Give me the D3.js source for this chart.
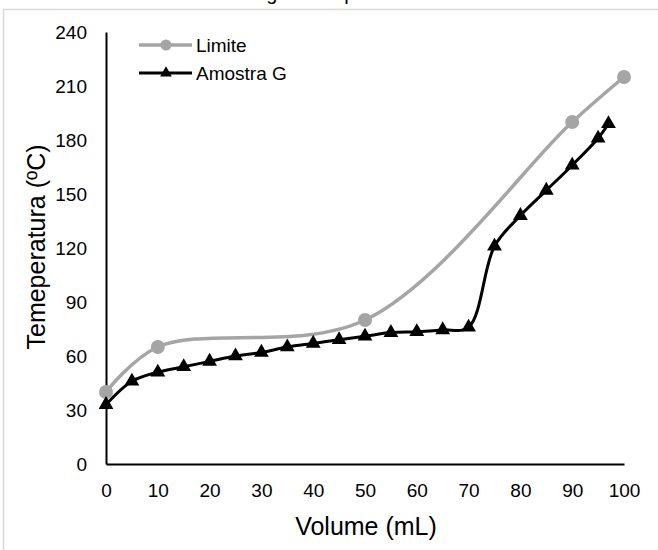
<!DOCTYPE html>
<html>
<head>
<meta charset="utf-8">
<script src="https://cdn.jsdelivr.net/npm/d3@7"></script>
<style>
  body { margin: 0; background: #fff; }
  svg { display: block; font-family: "Liberation Sans", Arial, sans-serif; }
</style>
</head>
<body>
<div id="chart"></div>
<script>
// Limite series
var limiteVolume = [0, 10, 50, 90, 100];
var limiteTemp = [40, 65, 80, 190, 215];

// Amostra G series
var amostraVolume = [0, 5, 10, 15, 20, 25, 30, 35, 40, 45, 50, 55, 60, 65, 70, 75, 80, 85, 90, 95, 97];
var amostraTemp = [33, 46, 51, 54, 57, 60, 62, 65, 67, 69, 71, 73, 73.5, 74.5, 76, 121, 138, 152, 166, 181, 189];

var xTicks = [0, 10, 20, 30, 40, 50, 60, 70, 80, 90, 100];
var yTicks = [0, 30, 60, 90, 120, 150, 180, 210, 240];

const W = 658, H = 550;
const margin = { top: 32, right: 34, bottom: 86, left: 106 };
const width = W - margin.left - margin.right;
const height = H - margin.top - margin.bottom;

var svg = d3.select("#chart").append("svg")
    .attr("width", W)
    .attr("height", H);

// cut-off caption above the frame (only its lower edge is visible)
svg.append("text")
    .attr("x", 14)
    .attr("y", 0)
    .style("font-size", "20px")
    .attr("fill", "#000")
    .text("relacionadas com o limite segundo a portaria");

// outer frame
svg.append("rect")
    .attr("x", 3.5)
    .attr("y", 9.5)
    .attr("width", 700)
    .attr("height", 600)
    .attr("fill", "none")
    .attr("stroke", "#d9d9d9")
    .attr("stroke-width", 1.5);

var g = svg.append("g")
    .attr("transform", "translate(" + margin.left + "," + margin.top + ")");

const x = d3.scaleLinear().domain([0, 100]).range([0, width]);
const y = d3.scaleLinear().domain([0, 240]).range([height, 0]);

// axes
var xAxis = g.append("g")
    .attr("transform", "translate(0," + height + ")")
    .call(d3.axisBottom(x).tickValues(xTicks).tickSize(0).tickPadding(20));
var yAxis = g.append("g")
    .call(d3.axisLeft(y).tickValues(yTicks).tickSize(0).tickPadding(19));

[xAxis, yAxis].forEach(function (a) {
    a.select(".domain").attr("stroke", "#000").attr("stroke-width", 2);
    a.selectAll("text").style("font-size", "19px").attr("fill", "#000")
        .style("font-family", "'Liberation Sans', Arial, sans-serif");
});
xAxis.selectAll("text").attr("dy", "0.71em");

// axis titles
g.append("text")
    .attr("x", width / 2 + 1)
    .attr("y", height + 71)
    .attr("text-anchor", "middle")
    .style("font-size", "25px")
    .text("Volume (mL)");

g.append("text")
    .attr("transform", "rotate(-90)")
    .attr("x", -(247 - margin.top))
    .attr("y", -61)
    .attr("text-anchor", "middle")
    .style("font-size", "25px")
    .text("Temeperatura (ºC)");

var line = d3.line()
    .x(function (d) { return x(d[0]); })
    .y(function (d) { return y(d[1]); })
    .curve(d3.curveCatmullRom.alpha(0.5));

var limiteData = limiteVolume.map(function (v, i) { return [v, limiteTemp[i]]; });
var amostraData = amostraVolume.map(function (v, i) { return [v, amostraTemp[i]]; });

const gray = "#a5a5a5";

// Limite
g.append("path")
    .datum(limiteData)
    .attr("fill", "none")
    .attr("stroke", gray)
    .attr("stroke-width", 3.5)
    .attr("d", line);
g.selectAll(".lim")
    .data(limiteData)
    .enter().append("circle")
    .attr("class", "lim")
    .attr("cx", function (d) { return x(d[0]); })
    .attr("cy", function (d) { return y(d[1]); })
    .attr("r", 7)
    .attr("fill", gray);

// Amostra G
var tri = d3.symbol().type(d3.symbolTriangle).size(95);
g.append("path")
    .datum(amostraData)
    .attr("fill", "none")
    .attr("stroke", "#000")
    .attr("stroke-width", 3)
    .attr("d", line);
g.selectAll(".amo")
    .data(amostraData)
    .enter().append("path")
    .attr("class", "amo")
    .attr("transform", function (d) { return "translate(" + x(d[0]) + "," + y(d[1]) + ")"; })
    .attr("d", tri)
    .attr("fill", "#000");

// legend
var legend = svg.append("g").attr("transform", "translate(139,45)");
var items = [
    { name: "Limite", color: gray, w: 3.5, marker: "circle" },
    { name: "Amostra G", color: "#000", w: 3, marker: "tri" }
];
items.forEach(function (it, i) {
    var row = legend.append("g").attr("transform", "translate(0," + (i * 28) + ")");
    row.append("line")
        .attr("x1", 0).attr("x2", 53)
        .attr("y1", 0).attr("y2", 0)
        .attr("stroke", it.color)
        .attr("stroke-width", it.w);
    if (it.marker === "circle") {
        row.append("circle").attr("cx", 27).attr("cy", 0).attr("r", 5.5).attr("fill", it.color);
    } else {
        row.append("path").attr("transform", "translate(27,0)")
            .attr("d", d3.symbol().type(d3.symbolTriangle).size(60)).attr("fill", it.color);
    }
    row.append("text")
        .attr("x", 57)
        .attr("y", 0)
        .attr("dy", "0.35em")
        .style("font-size", "19px")
        .text(it.name);
});
</script>
</body>
</html>
